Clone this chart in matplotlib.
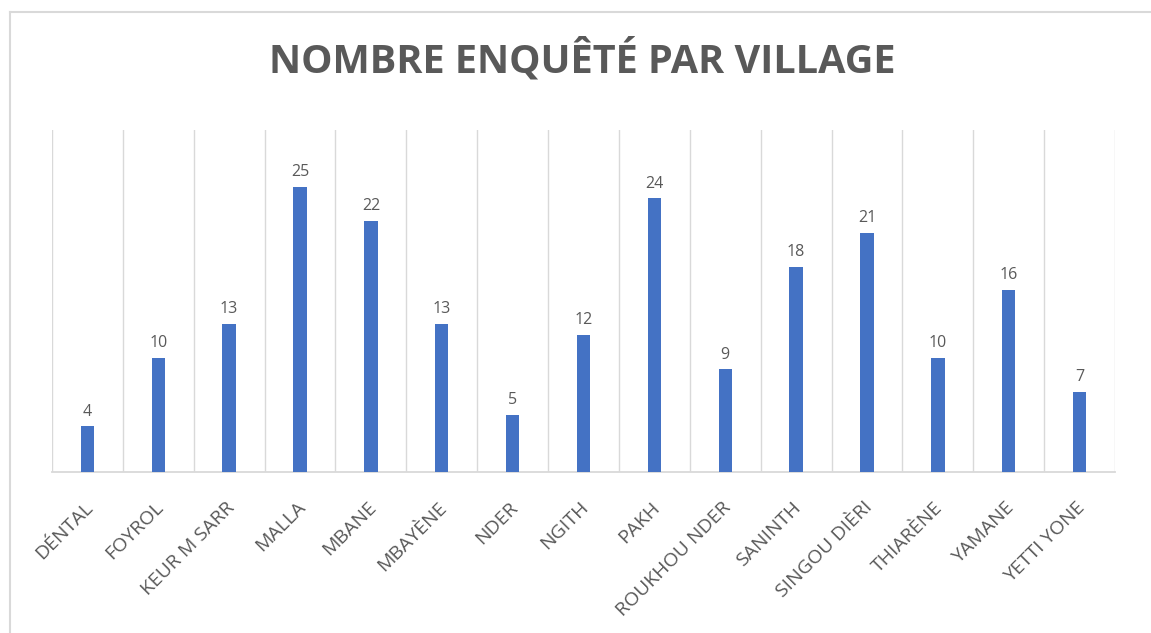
import matplotlib.pyplot as plt
import matplotlib.transforms as mtransforms
from matplotlib.lines import Line2D

villages = ['DÉNTAL', 'FOYROL', 'KEUR M SARR', 'MALLA', 'MBANE', 'MBAYÈNE', 'NDER',
            'NGITH', 'PAKH', 'ROUKHOU NDER', 'SANINTH', 'SINGOU DIÈRI', 'THIARÈNE',
            'YAMANE', 'YETTI YONE']
counts = [4, 10, 13, 25, 22, 13, 5, 12, 24, 9, 18, 21, 10, 16, 7]

grey = '#595959'
fig = plt.figure(figsize=(11.51, 6.33), dpi=100)
ax = fig.add_axes([52 / 1151, 161 / 633, 1063 / 1151, 342 / 633])

x = range(len(villages))
ax.bar(x, counts, width=0.19, color='#4472C4', zorder=3)

# data labels
for xi, v in zip(x, counts):
    ax.text(xi, v + 0.6, str(v), ha='center', va='bottom', color=grey,
            fontsize=11.5, family='Open Sans')

# vertical category gridlines
for b in range(len(villages) + 1):
    ax.axvline(b - 0.5, color='#D9D9D9', lw=1, zorder=1)

ax.set_xlim(-0.5, len(villages) - 0.5)
ax.set_ylim(0, 30)
ax.set_yticks([])
ax.set_xticks(list(x))
ax.set_xticklabels(villages, rotation=45, ha='right', rotation_mode='anchor',
                   color=grey, fontsize=14, family='Open Sans')
ax.tick_params(axis='x', length=0, pad=19)
shift = mtransforms.ScaledTranslation(-4 / 100, 0, fig.dpi_scale_trans)
for lab in ax.get_xticklabels():
    lab.set_transform(lab.get_transform() + shift)
for s in ['top', 'right', 'left']:
    ax.spines[s].set_visible(False)
ax.spines['bottom'].set_color('#D9D9D9')
ax.spines['bottom'].set_linewidth(1.3)

fig.text(582 / 1151, 1 - 60 / 633, 'NOMBRE ENQUÊTÉ PAR VILLAGE', ha='center', va='center',
         fontsize=28.5, fontweight='bold', color=grey, family='Open Sans')

# chart area border (left and top edges visible)
fig.add_artist(Line2D([10 / 1151, 10 / 1151], [0, 1 - 12 / 633], transform=fig.transFigure,
                      color='#D9D9D9', lw=1.5))
fig.add_artist(Line2D([10 / 1151, 1], [1 - 12 / 633, 1 - 12 / 633], transform=fig.transFigure,
                      color='#D9D9D9', lw=1.5))

fig.savefig('out.png', dpi=100)
